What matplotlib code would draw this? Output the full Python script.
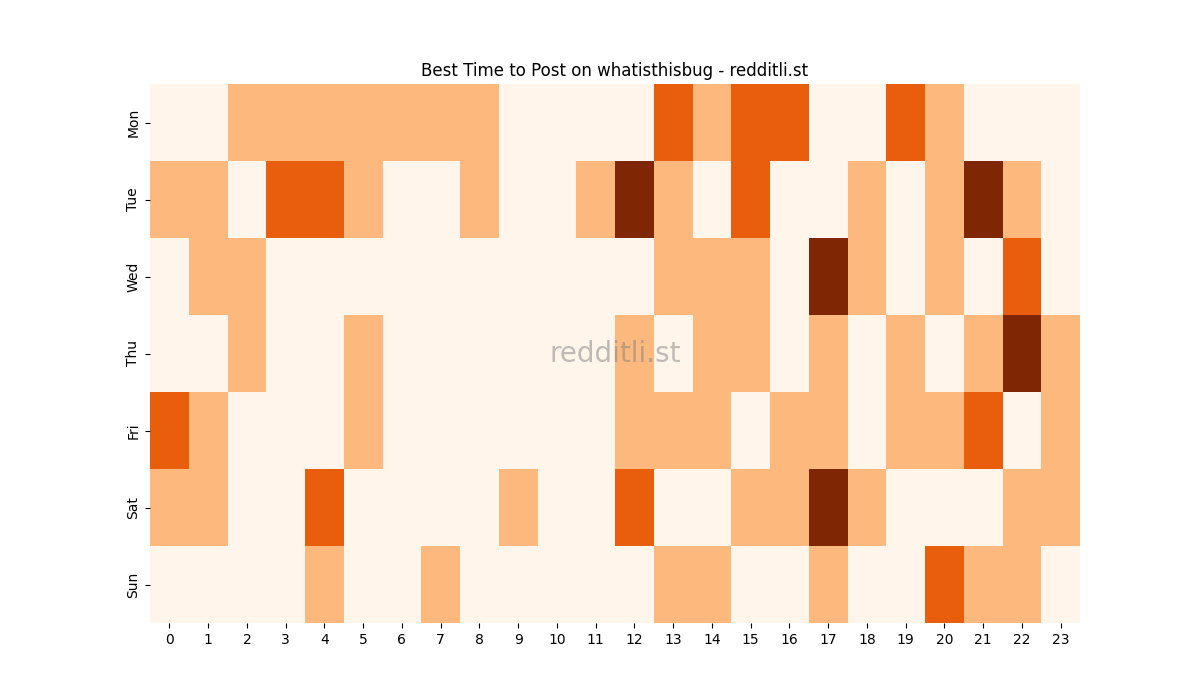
import matplotlib
matplotlib.use("Agg")
import matplotlib.pyplot as plt
import seaborn as sns
import numpy as np

days = ["Mon", "Tue", "Wed", "Thu", "Fri", "Sat", "Sun"]
hours = [str(h) for h in range(24)]

mon = [0,0,1,1,1,1,1,1,1,0,0,0,0,2,1,2,2,0,0,2,1,0,0,0]
tue = [1,1,0,2,2,1,0,0,1,0,0,1,3,1,0,2,0,0,1,0,1,3,1,0]
wed = [0,1,1,0,0,0,0,0,0,0,0,0,0,1,1,1,0,3,1,0,1,0,2,0]
thu = [0,0,1,0,0,1,0,0,0,0,0,0,1,0,1,1,0,1,0,1,0,1,3,1]
fri = [2,1,0,0,0,1,0,0,0,0,0,0,1,1,1,0,1,1,0,1,1,2,0,1]
sat = [1,1,0,0,2,0,0,0,0,1,0,0,2,0,0,1,1,3,1,0,0,0,1,1]
sun = [0,0,0,0,1,0,0,1,0,0,0,0,0,1,1,0,0,1,0,0,2,1,1,0]

data = np.array([mon, tue, wed, thu, fri, sat, sun])

fig, ax = plt.subplots(figsize=(12, 7), dpi=100)
sns.heatmap(data, cmap="Oranges", cbar=False, ax=ax,
            xticklabels=hours, yticklabels=days)
ax.set_title("Best Time to Post on whatisthisbug - redditli.st")
ax.text(0.5, 0.5, "redditli.st", transform=ax.transAxes, ha="center",
        va="center", fontsize=20, color="gray", alpha=0.5)
plt.savefig("out.png")
